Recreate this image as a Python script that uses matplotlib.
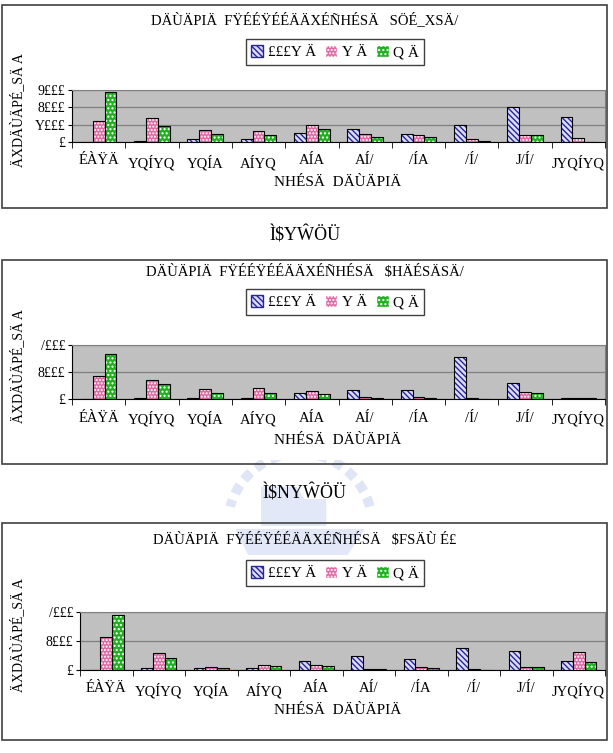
import matplotlib
matplotlib.use('Agg')
import numpy as np
import matplotlib.pyplot as plt
from matplotlib.patches import Rectangle, Patch, Arc, Polygon

plt.rcParams['font.family'] = ['Liberation Serif', 'DejaVu Serif']

# ---- data ----
categories = ['ÉÀŸÄ', 'YQÍYQ', 'YQÍA', 'AÍYQ', 'AÍA', 'AÍ/', '/ÍA', '/Í/', 'J/Í/', 'JYQÍYQ']
series_labels = ['£££Y Ä', 'Y Ä', 'Q Ä']

titles = ['DÄÙÄPIÄ  FŸÉÉŸÉÉÄÄXÉÑHÉSÄ   SÖÉ_XSÄ/',
          'DÄÙÄPIÄ  FŸÉÉŸÉÉÄÄXÉÑHÉSÄ   $HÄÉSÄSÄ/',
          'DÄÙÄPIÄ  FŸÉÉŸÉÉÄÄXÉÑHÉSÄ   $FSÄÙ É£']
captions = ['Ì$YŴÖÜ', 'Ì$NYŴÖÜ']
x_title = 'NHÉSÄ  DÄÙÄPIÄ'
y_title = 'ÄXDÄÙÄPÉ_SÄ A'

chart1_blue = [0, 100, 300, 300, 1040, 1460, 880, 1960, 4000, 2880]
chart1_pink = [2460, 2770, 1350, 1310, 1960, 880, 770, 300, 770, 460]
chart1_green = [5730, 1850, 880, 810, 1460, 580, 580, 150, 770, 0]

chart2_blue = [0, 150, 150, 150, 890, 1380, 1380, 6220, 2370, 200]
chart2_pink = [3360, 2860, 1530, 1680, 1190, 350, 350, 200, 1040, 200]
chart2_green = [6720, 2220, 890, 890, 690, 200, 200, 60, 890, 200]

chart3_blue = [0, 280, 280, 280, 1200, 1990, 1530, 3100, 2640, 1200]
chart3_pink = [4620, 2310, 420, 740, 740, 140, 420, 140, 420, 2450]
chart3_green = [7630, 1660, 280, 600, 600, 140, 280, 0, 420, 1060]

chart1_ticks = [0, 2000, 4000, 6000]
chart1_ticklabels = ['£', 'Y£££', '8£££', '9£££']
chart23_ticks = [0, 4000, 8000]
chart23_ticklabels = ['£', '8£££', '/£££']

# ---- layout in pixels ----
W, H = 613, 753
fig = plt.figure(figsize=(W / 100, H / 100), dpi=100)


def fx(x):
    return x / W


def fy(y):
    return 1 - y / H


# bar styles: (face, hatch colour, hatch)
styles = [('#dcdcf6', '#26269a', '\\\\\\\\\\\\'),
          ('#dc6aa4', '#ffffff', '.....'),
          ('#20b020', '#ffffff', '....')]

charts = [
    dict(data=[chart1_blue, chart1_pink, chart1_green], box=(2, 5, 607, 208),
         plot=(72, 90, 605, 142), title_y=20, legend_y=52, ylim=6000,
         ticks=chart1_ticks, ticklabels=chart1_ticklabels),
    dict(data=[chart2_blue, chart2_pink, chart2_green], box=(2, 260, 607, 464),
         plot=(72, 345, 605, 399), title_y=272, legend_y=302, ylim=8000,
         ticks=chart23_ticks, ticklabels=chart23_ticklabels),
    dict(data=[chart3_blue, chart3_pink, chart3_green], box=(2, 523, 607, 740),
         plot=(80, 612, 605, 670), title_y=540, legend_y=573, ylim=8000,
         ticks=chart23_ticks, ticklabels=chart23_ticklabels),
]

# faint school-logo watermark behind the second caption
wm = fig.add_axes([fx(215), fy(555), fx(170), 95 / H], zorder=0)
wm.set_xlim(-1, 1)
wm.set_ylim(-0.35, 0.77)
wm.axis('off')
wm.add_patch(Arc((0, 0), 1.7, 1.7, theta1=15, theta2=165, lw=7, color='#dfe5f7',
                 linestyle=(0, (1.0, 0.7))))
wm.add_patch(Polygon([(-0.45, 0.0), (-0.45, 0.45), (-0.05, 0.45), (0.05, 0.3),
                      (0.3, 0.3), (0.3, 0.0)], closed=True, color='#e3e8f8'))
wm.add_patch(Polygon([(-0.75, -0.05), (0.75, -0.05), (0.55, -0.35), (-0.6, -0.35)],
                     closed=True, color='#e3e8f8'))

for i, c in enumerate(charts):
    bx0, by0, bx1, by1 = c['box']
    fig.patches.append(Rectangle((fx(bx0), fy(by1)), fx(bx1 - bx0), (by1 - by0) / H,
                                 transform=fig.transFigure, fill=False,
                                 edgecolor='#404040', linewidth=1.2, zorder=2))
    px0, py0, px1, py1 = c['plot']
    ax = fig.add_axes([fx(px0), fy(py1), fx(px1 - px0), (py1 - py0) / H])
    ax.set_facecolor('#c0c0c0')

    x = np.arange(len(categories))
    w = 1 / 4.5
    handles = []
    for k, vals in enumerate(c['data']):
        face, hcol, hatch = styles[k]
        pos = x + (k - 1) * w
        ax.bar(pos, vals, w, color=face, edgecolor=hcol, hatch=hatch, linewidth=0, zorder=3)
        ax.bar(pos, vals, w, facecolor='none', edgecolor='black', linewidth=0.8, zorder=4)
        handles.append(Patch(facecolor=face, edgecolor=hcol, hatch=hatch))

    ax.set_xlim(-0.5, len(categories) - 0.5)
    ax.set_ylim(0, c['ylim'])
    ax.set_yticks(c['ticks'])
    ax.set_yticklabels(c['ticklabels'], fontsize=10)
    ax.yaxis.grid(True, color='#808080', linewidth=0.9, zorder=1)
    ax.set_axisbelow(True)
    ax.set_xticks(x)
    ax.set_xticklabels(categories, fontsize=10.5)
    ax.set_xticks(np.arange(len(categories) + 1) - 0.5, minor=True)
    ax.tick_params(axis='x', which='major', length=0, pad=9)
    ax.tick_params(axis='x', which='minor', length=4, direction='out')
    ax.tick_params(axis='y', length=3, direction='out', pad=2)
    for s in ['top', 'right']:
        ax.spines[s].set_color('#808080')
    for s in ['left', 'bottom']:
        ax.spines[s].set_color('black')

    fig.text(fx(305), fy(c['title_y']), titles[i], ha='center', va='center', fontsize=10.5)
    fig.text(fx(338), fy(py1 + 41), x_title, ha='center', va='center', fontsize=11)
    fig.text(fx(18), fy((py0 + py1) / 2 - 6), y_title, ha='center', va='center',
             rotation=90, fontsize=10)
    leg = fig.legend(handles, series_labels, loc='center', ncol=3,
                     bbox_to_anchor=(fx(335), fy(c['legend_y'])),
                     fontsize=11, frameon=True, fancybox=False, edgecolor='#404040',
                     framealpha=1, handlelength=0.8, handleheight=0.8, handletextpad=0.3,
                     columnspacing=0.6, borderpad=0.35)
    leg.get_frame().set_linewidth(1.0)

fig.text(fx(305), fy(236), captions[0], ha='center', va='center', fontsize=13)
fig.text(fx(305), fy(494), captions[1], ha='center', va='center', fontsize=13)

fig.savefig('out.png', dpi=100)
